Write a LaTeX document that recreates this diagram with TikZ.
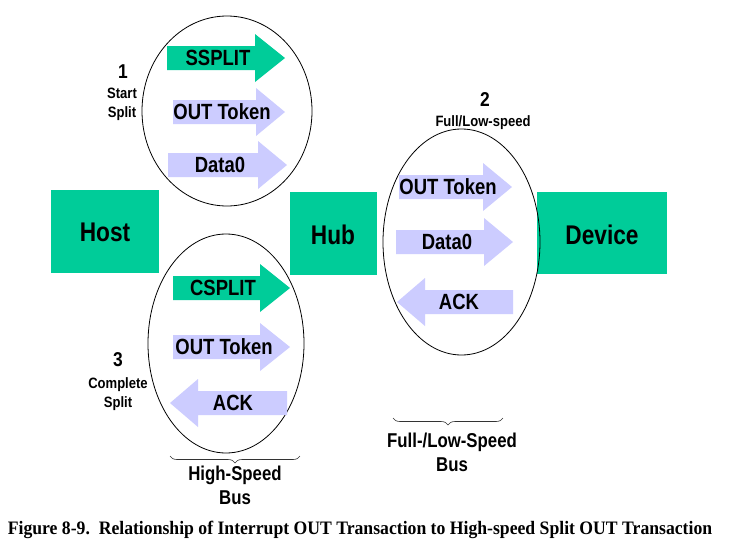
\documentclass[tikz,border=0pt]{standalone}
\usepackage{fontspec}
\setmainfont{Liberation Sans}[FakeStretch=0.87]
\newfontfamily\narfont{Liberation Sans}[FakeStretch=0.84]
\newfontfamily\capfont{Liberation Serif}[FakeStretch=0.93]
\usetikzlibrary{shapes.geometric,decorations.pathreplacing}
\definecolor{usbgreen}{RGB}{0,204,153}
\definecolor{pktblue}{RGB}{204,204,255}
\newcommand\rarr[6]{% fill, x0, head base, tip, y, text x; body half 12, head half 24
  \fill[#1] (#2,#5-12) -- (#3,#5-12) -- (#3,#5-24) -- (#4,#5) -- (#3,#5+24) -- (#3,#5+12) -- (#2,#5+12) -- cycle;}
\newcommand\larr[5]{% fill, tip, head base, x1, y
  \fill[#1] (#2,#5) -- (#3,#5-24) -- (#3,#5-12) -- (#4,#5-12) -- (#4,#5+12) -- (#3,#5+12) -- (#3,#5+24) -- cycle;}
\begin{document}
\begin{tikzpicture}[x=1pt,y=-1pt,
  box/.style={fill=usbgreen,inner sep=0pt},
  boxlab/.style={font=\narfont\bfseries\fontsize{27}{30}\selectfont,inner sep=0pt},
  bubble/.style={ellipse,draw=black,line width=0.8pt,inner sep=0pt},
  pkt/.style={font=\narfont\bfseries\fontsize{22}{24}\selectfont,inner sep=0pt},
  num/.style={font=\bfseries\fontsize{20}{22}\selectfont,inner sep=0pt},
  small/.style={font=\bfseries\fontsize{15}{19}\selectfont,align=center,inner sep=0pt},
  buslab/.style={font=\narfont\bfseries\fontsize{20}{24}\selectfont,align=center,inner sep=0pt},
  bus/.style={decorate,decoration={brace,mirror,amplitude=7pt},draw=black!80,line width=0.6pt}]
\useasboundingbox (0,0) rectangle (732,552);
\fill[white] (0,0) rectangle (732,552);
% boxes
\node[box,minimum width=108pt,minimum height=83pt] (host) at (105,231.5) {};
\node[boxlab] at (105,232) {Host};
\node[box,minimum width=87pt,minimum height=83pt] (hub) at (333.5,233.5) {};
\node[boxlab] at (333,235) {Hub};
\node[box,minimum width=130pt,minimum height=82pt] (device) at (602,233) {};
\node[boxlab] at (602,235) {Device};
% ellipses
\node[bubble,minimum width=170pt,minimum height=190pt] (start) at (227,111) {};
\node[bubble,minimum width=156pt,minimum height=219pt] (complete) at (226,343.5) {};
\node[bubble,minimum width=157pt,minimum height=226pt] (fullspeed) at (461.5,242) {};
% start split packets
\rarr{usbgreen}{167}{255}{285}{58}{}
\node[pkt] (ssplit) at (218,58) {SSPLIT};
\rarr{pktblue}{173}{256}{285}{112}{}
\node[pkt] (out1) at (222,112) {OUT Token};
\rarr{pktblue}{168}{258}{287}{165}{}
\node[pkt] (data1) at (220,165) {Data0};
% complete split packets
\rarr{usbgreen}{173}{260}{290}{288}{}
\node[pkt] (csplit) at (223,288) {CSPLIT};
\rarr{pktblue}{173}{260}{290}{347}{}
\node[pkt] (out3) at (224,347) {OUT Token};
\larr{pktblue}{170}{198}{287}{403}
\node[pkt] (ack3) at (233,403) {ACK};
% full/low speed packets
\rarr{pktblue}{399}{483}{512}{187}{}
\node[pkt] (out2) at (448,187) {OUT Token};
\rarr{pktblue}{396}{484}{513}{242}{}
\node[pkt] (data2) at (447,242) {Data0};
\larr{pktblue}{397}{425}{513}{302}
\node[pkt] (ack2) at (459,302) {ACK};
% labels
\node[num] (n1) at (123,72) {1};
\node[small] (l1) at (122,104) {Start\\Split};
\node[num] (n2) at (485,100) {2};
\node[small] (l2) at (483,123) {Full/Low-speed};
\node[num] (n3) at (118,360) {3};
\node[small] (l3) at (118,394) {Complete\\Split};
% buses
\coordinate (hsA) at (170,456);
\coordinate (hsB) at (300,456);
\draw[bus] (hsA) -- (hsB);
\node[buslab] (hslab) at (235,485) {High-Speed\\Bus};
\coordinate (fsA) at (393,418);
\coordinate (fsB) at (503,418);
\draw[bus] (fsA) -- (fsB);
\node[buslab] (fslab) at (452,452) {Full-/Low-Speed\\Bus};
% caption
\node[font=\capfont\bfseries\fontsize{19}{21}\selectfont,inner sep=0pt] (caption) at (360,530) {Figure 8-9.\ \ Relationship of Interrupt OUT Transaction to High-speed Split OUT Transaction};
\end{tikzpicture}
\end{document}
